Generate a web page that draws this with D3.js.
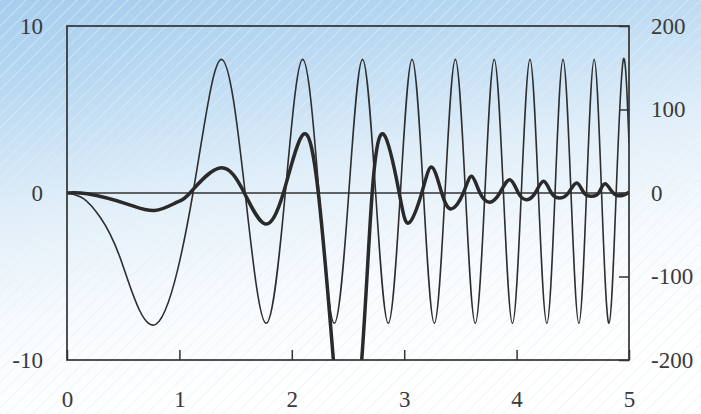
<!DOCTYPE html>
<html>
<head>
<meta charset="utf-8">
<script src="https://cdn.jsdelivr.net/npm/d3@7"></script>
<style>
  html, body { margin: 0; padding: 0; background: #fff; }
  svg { display: block; }
</style>
</head>
<body>
<svg id="chart" width="701" height="414"></svg>
<script>
// thin curve (left axis) - extrema and zero crossings
const thinX = [0, 0.15, 0.3, 0.49, 0.793, 1.121, 1.373, 1.585, 1.772, 1.942, 2.097, 2.242, 2.378, 2.507,
  2.629, 2.746, 2.858, 2.966, 3.070, 3.171, 3.268, 3.363, 3.455, 3.545, 3.632, 3.718, 3.801, 3.883,
  3.963, 4.042, 4.119, 4.194, 4.269, 4.342, 4.413, 4.484, 4.554, 4.622, 4.690, 4.756, 4.822, 4.886, 4.950, 5.0];
const thinY = [0, -0.35, -1.5, -4.2, -7.85, 0, 8, 0, -7.8, 0, 8, 0, -7.8, 0,
  8, 0, -7.8, 0, 8, 0, -7.8, 0, 8, 0, -7.8, 0, 8, 0,
  -7.8, 0, 8, 0, -7.8, 0, 8, 0, -7.8, 0, 8, 0, -7.8, 0, 8, 3.0];

// thick curve (right axis)
const thickX = [0, 0.18, 0.53, 0.78, 0.98, 1.094, 1.36, 1.578, 1.76, 1.925, 2.10, 2.236, 2.37, 2.49, 2.622,
  2.715, 2.82, 2.956, 3.04, 3.156, 3.245, 3.334, 3.42, 3.526, 3.60, 3.674, 3.763, 3.85, 3.94, 4.015,
  4.09, 4.165, 4.24, 4.31, 4.386, 4.46, 4.535, 4.60, 4.668, 4.73, 4.787, 4.86, 4.94, 5.0];
const thickY = [0, -1, -13, -21, -11, 0, 30, 0, -37, 0, 70, 0, -200, -330, -200,
  0, 70, 0, -36, 0, 31, 0, -19, 0, 20, 0, -11, 0, 16, 0,
  -8, 0, 14, 0, -6, 0, 12, 0, -4, 0, 11, 0, -3, 1];

const xTicks = [0, 1, 2, 3, 4, 5];
const leftTicks = [-10, 0, 10];
const rightTicks = [-200, -100, 0, 100, 200];

const svg = d3.select("#chart");
const W = 701, H = 414;
const mLeft = 67, mRight = 629, mTop = 26, mBottom = 360;

const x = d3.scaleLinear().domain([0, 5]).range([mLeft, mRight]);
const yL = d3.scaleLinear().domain([-10, 10]).range([mBottom, mTop]);
const yR = d3.scaleLinear().domain([-200, 200]).range([mBottom, mTop]);

// background: blue scan-like wash with diagonal hatching
const defs = svg.append("defs");
const grad = defs.append("linearGradient").attr("id", "bg")
  .attr("x1", 0).attr("y1", 0).attr("x2", 0.25).attr("y2", 1);
grad.append("stop").attr("offset", "0%").attr("stop-color", "#a6cdee");
grad.append("stop").attr("offset", "22%").attr("stop-color", "#bad9f2");
grad.append("stop").attr("offset", "50%").attr("stop-color", "#e2eff9");
grad.append("stop").attr("offset", "75%").attr("stop-color", "#f8fbfe");
grad.append("stop").attr("offset", "100%").attr("stop-color", "#ffffff");

const hatchW = defs.append("pattern").attr("id", "hatchW")
  .attr("patternUnits", "userSpaceOnUse").attr("width", 9).attr("height", 9)
  .attr("patternTransform", "rotate(45)");
hatchW.append("line").attr("x1", 0).attr("y1", 0).attr("x2", 0).attr("y2", 9)
  .attr("stroke", "#ffffff").attr("stroke-width", 1.6).attr("opacity", 0.4);

const hatchB = defs.append("pattern").attr("id", "hatchB")
  .attr("patternUnits", "userSpaceOnUse").attr("width", 9).attr("height", 9)
  .attr("patternTransform", "rotate(45)");
hatchB.append("line").attr("x1", 0).attr("y1", 0).attr("x2", 0).attr("y2", 9)
  .attr("stroke", "#b8dcf0").attr("stroke-width", 1).attr("opacity", 0.6);

svg.append("rect").attr("width", W).attr("height", H).attr("fill", "url(#bg)");
svg.append("rect").attr("width", W).attr("height", H).attr("fill", "url(#hatchB)");
svg.append("rect").attr("width", W).attr("height", H).attr("fill", "url(#hatchW)");

defs.append("clipPath").attr("id", "plot")
  .append("rect").attr("x", mLeft).attr("y", mTop)
  .attr("width", mRight - mLeft).attr("height", mBottom - mTop);

// zero line
svg.append("line")
  .attr("x1", mLeft).attr("x2", mRight)
  .attr("y1", yL(0)).attr("y2", yL(0))
  .attr("stroke", "#333").attr("stroke-width", 1.7);

const thinLine = d3.line()
  .x((d, i) => x(thinX[i]))
  .y(d => yL(d))
  .curve(d3.curveNatural);

const thickLine = d3.line()
  .x((d, i) => x(thickX[i]))
  .y(d => yR(d))
  .curve(d3.curveNatural);

const g = svg.append("g").attr("clip-path", "url(#plot)");
g.append("path").datum(thinY)
  .attr("d", thinLine)
  .attr("fill", "none").attr("stroke", "#2e2e2e").attr("stroke-width", 1.6);
g.append("path").datum(thickY)
  .attr("d", thickLine)
  .attr("fill", "none").attr("stroke", "#2a2a2a").attr("stroke-width", 3.5)
  .attr("stroke-linejoin", "round");

// frame
svg.append("rect")
  .attr("x", mLeft).attr("y", mTop)
  .attr("width", mRight - mLeft).attr("height", mBottom - mTop)
  .attr("fill", "none").attr("stroke", "#333").attr("stroke-width", 1.7);

// axes
const fmt = d => String(d);
function styleText(sel) {
  sel.selectAll("text")
    .style("font-family", "'Liberation Serif', 'Times New Roman', serif")
    .style("font-size", "23px")
    .attr("fill", "#3a3a3a");
}

const xAxis = svg.append("g")
  .attr("transform", `translate(0,${mBottom})`)
  .call(d3.axisBottom(x).tickValues(xTicks).tickFormat(fmt)
    .tickSizeInner(-10).tickSizeOuter(0).tickPadding(31));
xAxis.select(".domain").remove();
xAxis.selectAll(".tick line").attr("stroke", "#333").attr("stroke-width", 1.5);
styleText(xAxis);

const lAxis = svg.append("g")
  .attr("transform", `translate(${mLeft},0)`)
  .call(d3.axisLeft(yL).tickValues(leftTicks).tickFormat(fmt)
    .tickSize(0).tickPadding(24));
lAxis.select(".domain").remove();
styleText(lAxis);

const rAxis = svg.append("g")
  .attr("transform", `translate(${mRight},0)`)
  .call(d3.axisRight(yR).tickValues(rightTicks).tickFormat(fmt)
    .tickSizeInner(-10).tickSizeOuter(0).tickPadding(22));
rAxis.select(".domain").remove();
rAxis.selectAll(".tick line").attr("stroke", "#333").attr("stroke-width", 1.5);
styleText(rAxis);
</script>
</body>
</html>
